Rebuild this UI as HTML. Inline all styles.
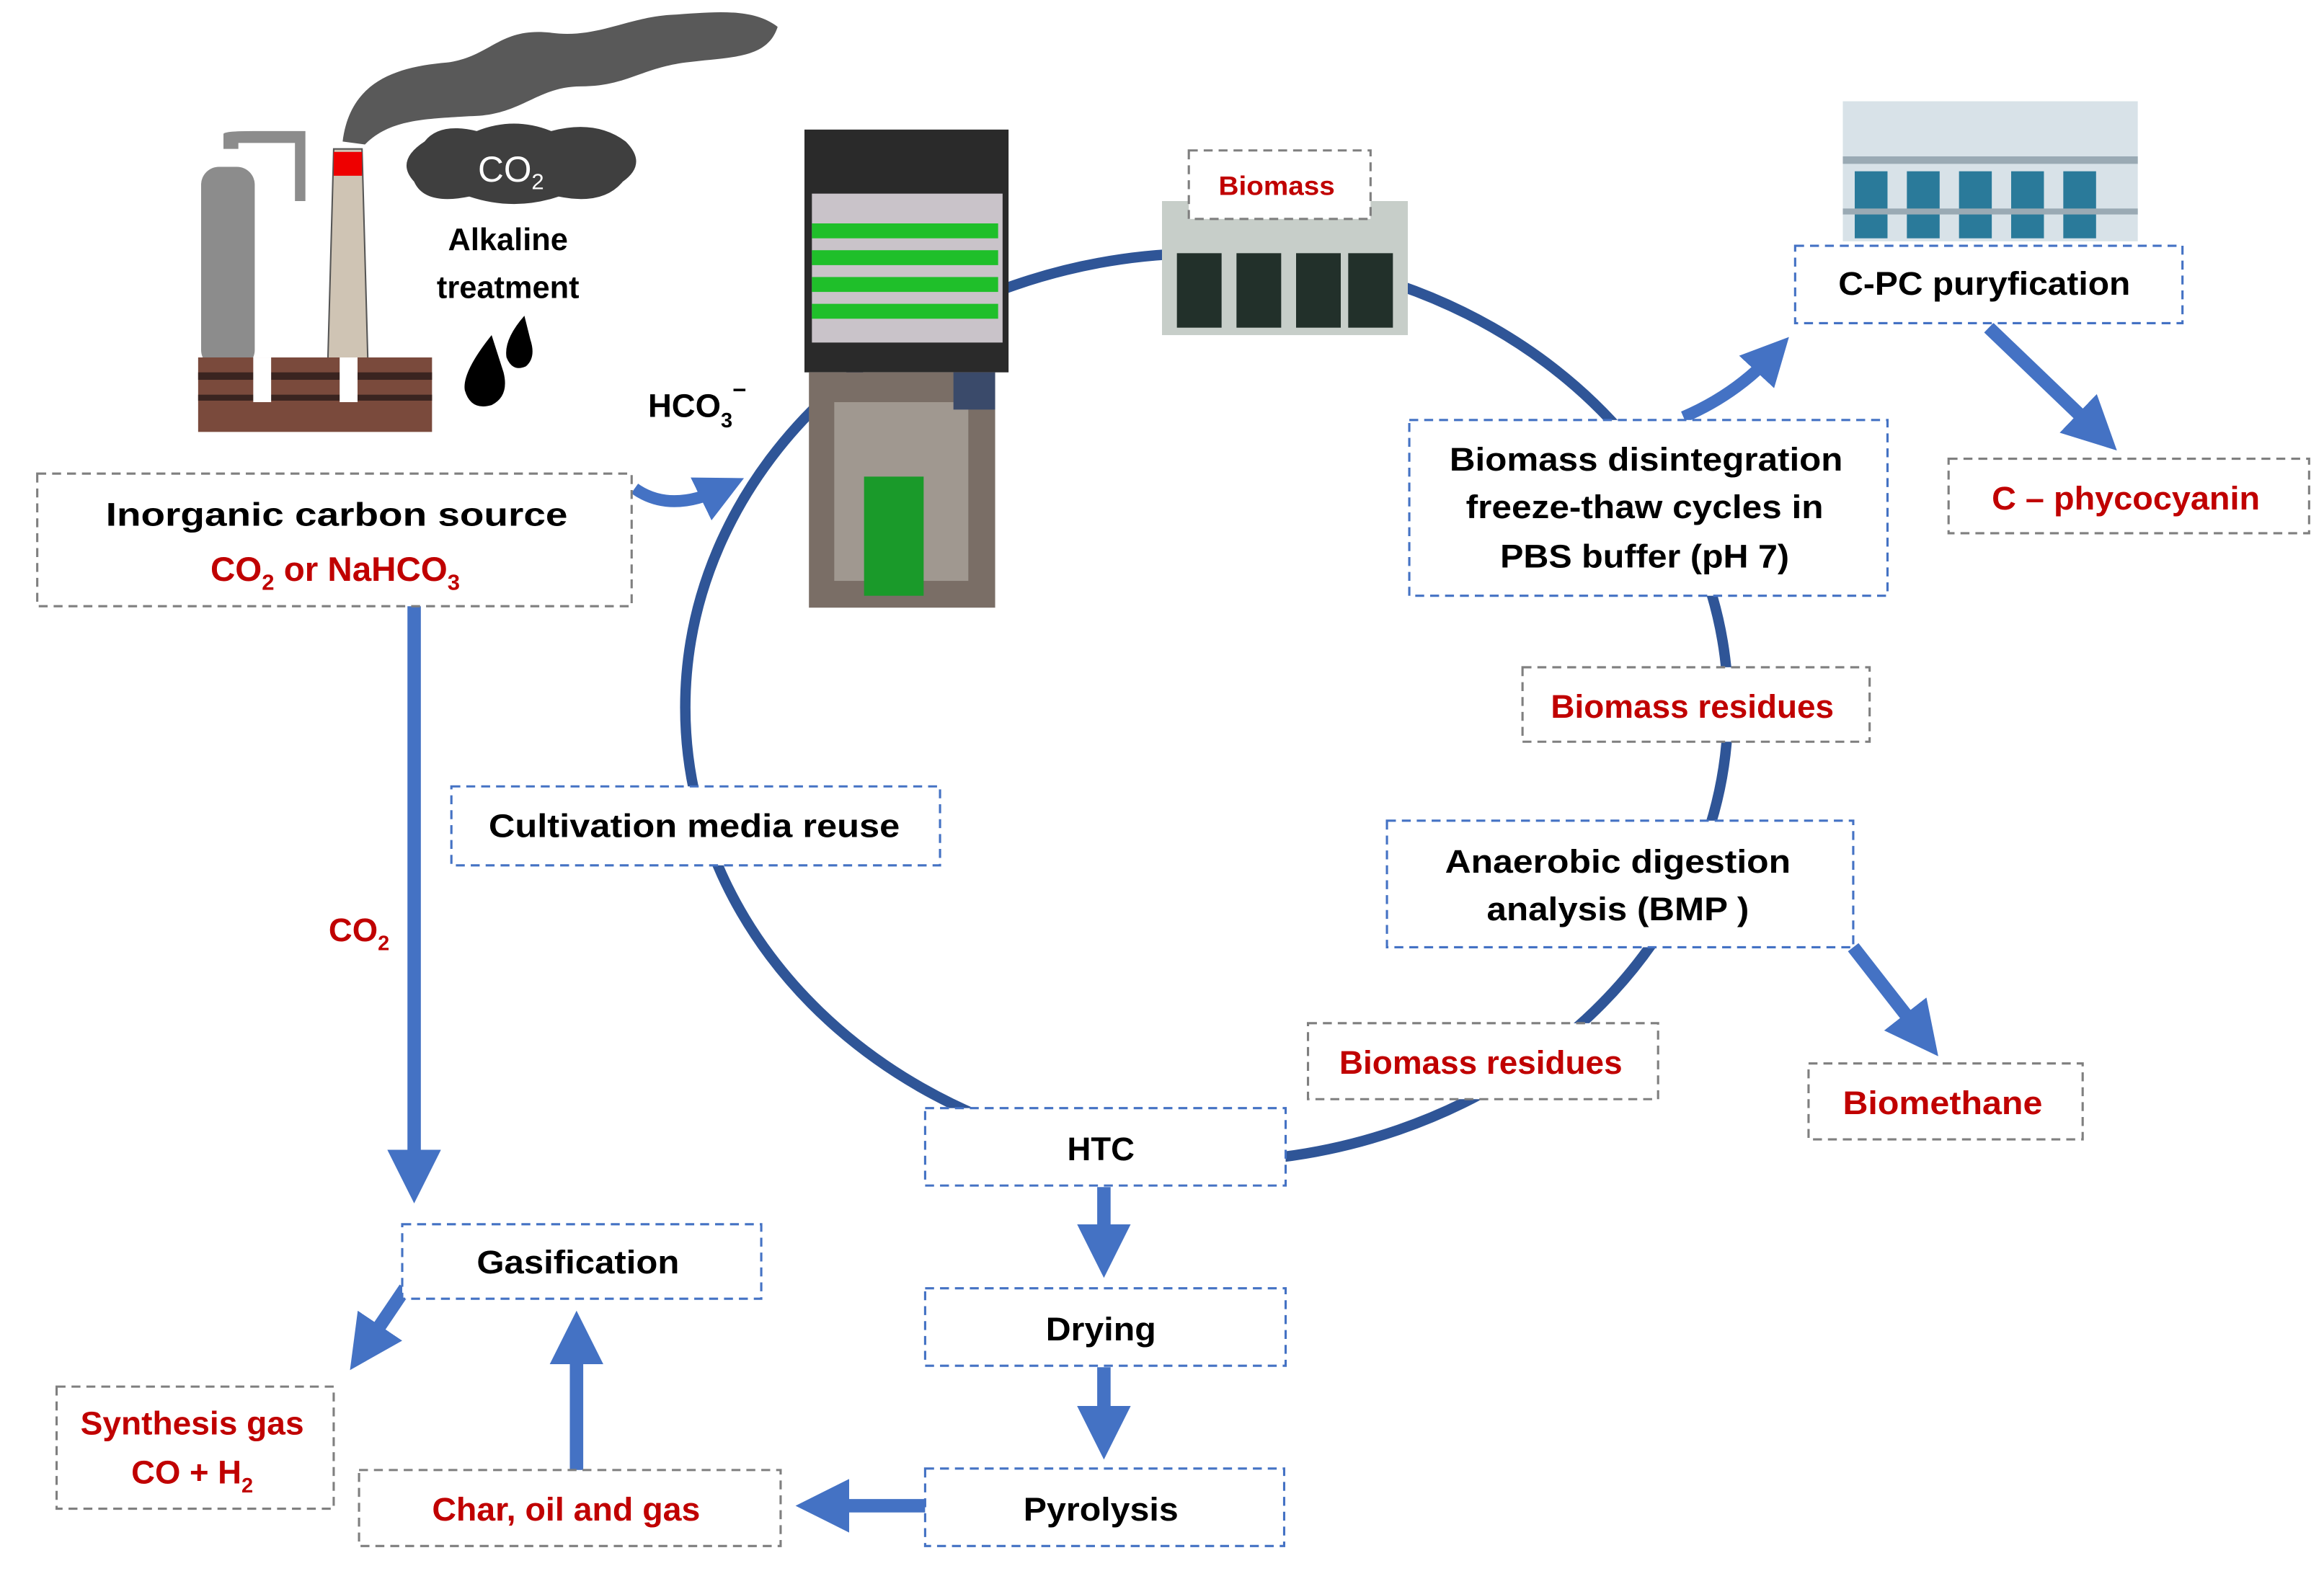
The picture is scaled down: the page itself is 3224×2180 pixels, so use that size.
<!DOCTYPE html>
<html><head><meta charset="utf-8"><style>
html,body{margin:0;padding:0;background:#fff;}
svg{display:block;}
text{font-family:"Liberation Sans",sans-serif;font-weight:bold;}
</style></head><body>
<svg width="3224" height="2180" viewBox="0 0 1560 1054.8" preserveAspectRatio="none" xmlns="http://www.w3.org/2000/svg">
<defs>
<marker id="ah" markerWidth="4" markerHeight="4" refX="2" refY="2" orient="auto" markerUnits="strokeWidth">
<path d="M0,0 L4,2 L0,4 z" fill="#4472C4"/></marker>
</defs>
<rect width="1560" height="1055" fill="#fff"/>

<!-- smoke -->
<path d="M230,95 C235,55 265,45 300,42 C330,38 335,18 370,22 C400,26 420,12 450,10 C480,8 505,5 522,18 C515,40 490,38 460,42 C430,46 420,58 390,58 C360,58 350,78 315,78 C285,80 262,80 245,97 Z" fill="#595959"/>
<!-- factory -->
<path d="M150,100 L150,90 Q150,88 170,88 L205,88 L205,135 L198,135 L198,96 L160,96 L160,100 Z" fill="#8c8c8c"/>
<rect x="135" y="112" width="36" height="135" rx="12" fill="#8c8c8c"/>
<polygon points="224,100 243,100 247,245 220,245" fill="#cfc4b4" stroke="#555" stroke-width="1"/>
<rect x="224" y="102" width="19" height="16" fill="#e00"/>
<rect x="133" y="240" width="157" height="50" fill="#7a4a3c"/>
<rect x="133" y="250" width="157" height="5" fill="#3a2420"/>
<rect x="133" y="265" width="157" height="4" fill="#3a2420"/>
<rect x="170" y="240" width="12" height="30" fill="#fff"/>
<rect x="228" y="240" width="12" height="30" fill="#fff"/>
<!-- cloud -->
<path d="M285,95 Q295,82 320,88 Q345,78 370,88 Q400,80 420,95 Q435,110 418,122 Q405,138 375,132 Q345,142 315,132 Q285,138 278,122 Q265,108 285,95 Z" fill="#3f3f3f"/>
<text x="343" y="122" font-size="24" fill="#fff" text-anchor="middle" style="font-weight:normal">CO<tspan font-size="15" dy="5">2</tspan></text>
<text x="341" y="168" font-size="21" text-anchor="middle">Alkaline</text>
<text x="341" y="200" font-size="21" text-anchor="middle">treatment</text>
<path d="M330,225 Q310,250 312,262 Q316,276 330,272 Q342,266 338,250 Z" fill="#000"/>
<path d="M352,212 Q338,228 340,240 Q344,250 353,246 Q360,240 356,228 Z" fill="#000"/>

<!-- C-PC image -->
<rect x="1237" y="68" width="198" height="94" fill="#d8e2e8"/>
<g fill="#2a7a9a"><rect x="1245" y="115" width="22" height="45"/><rect x="1280" y="115" width="22" height="45"/><rect x="1315" y="115" width="22" height="45"/><rect x="1350" y="115" width="22" height="45"/><rect x="1385" y="115" width="22" height="45"/></g>
<rect x="1237" y="105" width="198" height="5" fill="#9aaab4"/>
<rect x="1237" y="140" width="198" height="4" fill="#9aaab4"/>

<!-- big cycle -->
<ellipse cx="810" cy="475" rx="350" ry="305" fill="none" stroke="#2F5597" stroke-width="7"/>

<!-- reactor images -->
<rect x="540" y="87" width="137" height="163" fill="#2a2a2a"/>
<rect x="545" y="130" width="128" height="100" fill="#c9c3c9"/>
<g fill="#1fbf2a"><rect x="545" y="150" width="125" height="10"/><rect x="545" y="168" width="125" height="10"/><rect x="545" y="186" width="125" height="10"/><rect x="545" y="204" width="125" height="10"/></g>
<rect x="543" y="250" width="125" height="158" fill="#7a6e66"/>
<rect x="560" y="270" width="90" height="120" fill="#a09890"/>
<rect x="580" y="320" width="40" height="80" fill="#1a9a2a"/>
<rect x="640" y="250" width="28" height="25" fill="#3a4a6a"/>
<!-- biomass image -->
<rect x="780" y="135" width="165" height="90" fill="#c7cec9"/>
<g fill="#22302a"><rect x="790" y="170" width="30" height="50"/><rect x="830" y="170" width="30" height="50"/><rect x="870" y="170" width="30" height="50"/><rect x="905" y="170" width="30" height="50"/></g>

<!-- arrows -->
<g stroke="#4472C4" stroke-width="9" fill="none">
<path d="M426,328 Q450,345 485,328" marker-end="url(#ah)" stroke-width="8"/>
<line x1="278" y1="407" x2="278" y2="790" marker-end="url(#ah)"/>
<line x1="272" y1="865" x2="245" y2="905" marker-end="url(#ah)"/>
<line x1="387" y1="987" x2="387" y2="898" marker-end="url(#ah)"/>
<line x1="621" y1="1011" x2="552" y2="1011" marker-end="url(#ah)"/>
<line x1="741" y1="797" x2="741" y2="840" marker-end="url(#ah)"/>
<line x1="741" y1="918" x2="741" y2="962" marker-end="url(#ah)"/>
<path d="M1130,280 Q1165,265 1190,238" marker-end="url(#ah)" stroke-width="8"/>
<line x1="1335" y1="220" x2="1408" y2="290" marker-end="url(#ah)"/>
<line x1="1244" y1="636" x2="1290" y2="695" marker-end="url(#ah)"/>
</g>

<!-- boxes -->
<g fill="#fff" stroke-width="1.5" stroke-dasharray="6,4">
<rect x="25" y="318" width="399" height="89" stroke="#7f7f7f"/>
<rect x="270" y="822" width="241" height="50" stroke="#4472C4"/>
<rect x="38" y="931" width="186" height="82" stroke="#7f7f7f"/>
<rect x="241" y="987" width="283" height="51" stroke="#7f7f7f"/>
<rect x="621" y="986" width="241" height="52" stroke="#4472C4"/>
<rect x="621" y="865" width="242" height="52" stroke="#4472C4"/>
<rect x="621" y="744" width="242" height="52" stroke="#4472C4"/>
<rect x="303" y="528" width="328" height="53" stroke="#4472C4"/>
<rect x="798" y="101" width="122" height="46" stroke="#7f7f7f"/>
<rect x="1205" y="165" width="260" height="52" stroke="#4472C4"/>
<rect x="1308" y="308" width="242" height="50" stroke="#7f7f7f"/>
<rect x="946" y="282" width="321" height="118" stroke="#4472C4"/>
<rect x="1022" y="448" width="233" height="50" stroke="#7f7f7f"/>
<rect x="931" y="551" width="313" height="85" stroke="#4472C4"/>
<rect x="1214" y="714" width="184" height="51" stroke="#7f7f7f"/>
<rect x="878" y="687" width="235" height="51" stroke="#7f7f7f"/>
</g>

<!-- labels -->
<g font-size="22" text-anchor="middle">
<text x="468" y="280" font-size="22">HCO<tspan font-size="14" dy="7">3</tspan><tspan font-size="16" dy="-20">−</tspan></text>
<text x="226" y="353" textLength="310" lengthAdjust="spacingAndGlyphs">Inorganic carbon source</text>
<text x="225" y="390" fill="#C00000" font-size="23">CO<tspan font-size="15" dy="6">2</tspan><tspan dy="-6"> or  NaHCO</tspan><tspan font-size="15" dy="6">3</tspan></text>
<text x="241" y="632" fill="#C00000">CO<tspan font-size="14" dy="6">2</tspan></text>
<text x="388" y="855" textLength="136" lengthAdjust="spacingAndGlyphs">Gasification</text>
<text x="129" y="963" fill="#C00000" textLength="150" lengthAdjust="spacingAndGlyphs">Synthesis gas</text>
<text x="129" y="996" fill="#C00000">CO + H<tspan font-size="14" dy="6">2</tspan></text>
<text x="380" y="1021" fill="#C00000" textLength="180" lengthAdjust="spacingAndGlyphs">Char, oil and gas</text>
<text x="739" y="1021" textLength="104" lengthAdjust="spacingAndGlyphs">Pyrolysis</text>
<text x="739" y="900" textLength="74" lengthAdjust="spacingAndGlyphs">Drying</text>
<text x="739" y="779">HTC</text>
<text x="466" y="562" textLength="276" lengthAdjust="spacingAndGlyphs">Cultivation media reuse</text>
<text x="857" y="131" fill="#C00000" font-size="18" textLength="78" lengthAdjust="spacingAndGlyphs">Biomass</text>
<text x="1332" y="198" textLength="196" lengthAdjust="spacingAndGlyphs">C-PC puryfication</text>
<text x="1427" y="342" fill="#C00000" textLength="180" lengthAdjust="spacingAndGlyphs">C – phycocyanin</text>
<text x="1105" y="316" textLength="264" lengthAdjust="spacingAndGlyphs">Biomass disintegration</text>
<text x="1104" y="348" textLength="240" lengthAdjust="spacingAndGlyphs">freeze-thaw cycles in</text>
<text x="1104" y="381" textLength="194" lengthAdjust="spacingAndGlyphs">PBS buffer (pH 7)</text>
<text x="1136" y="482" fill="#C00000" textLength="190" lengthAdjust="spacingAndGlyphs">Biomass residues</text>
<text x="1086" y="586" textLength="232" lengthAdjust="spacingAndGlyphs">Anaerobic digestion</text>
<text x="1086" y="618" textLength="176" lengthAdjust="spacingAndGlyphs">analysis (BMP )</text>
<text x="1304" y="748" fill="#C00000" textLength="134" lengthAdjust="spacingAndGlyphs">Biomethane</text>
<text x="994" y="721" fill="#C00000" textLength="190" lengthAdjust="spacingAndGlyphs">Biomass residues</text>
</g>
</svg>
</body></html>
